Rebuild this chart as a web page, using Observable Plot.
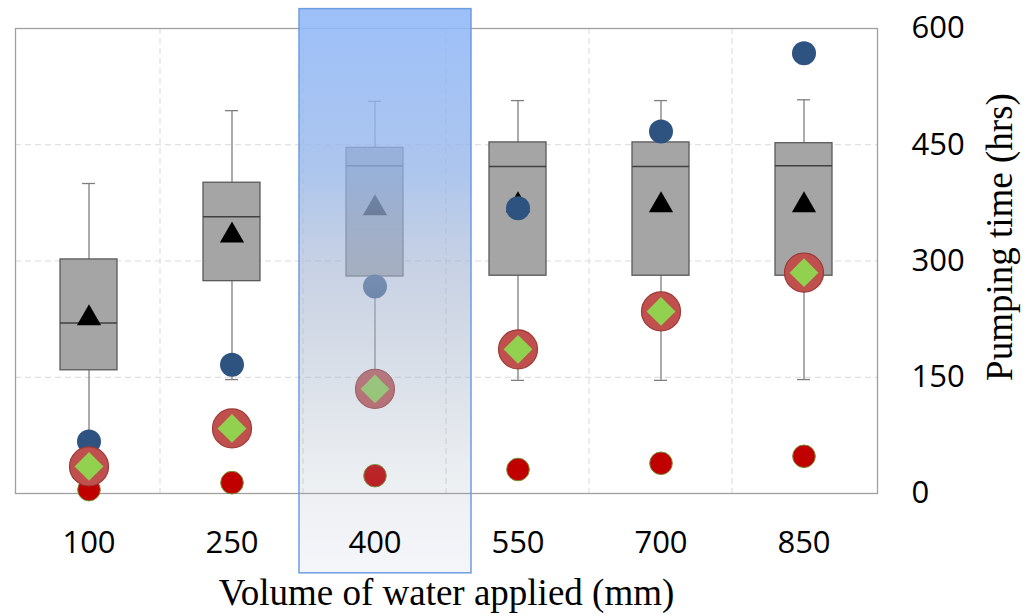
<!DOCTYPE html>
<html>
<head>
<meta charset="utf-8">
<script src="https://cdn.jsdelivr.net/npm/d3@7"></script>
<script src="https://cdn.jsdelivr.net/npm/@observablehq/plot@0.6"></script>
<style>
  html, body { margin: 0; padding: 0; background: #fff; }
  #chart svg { display: block; }
</style>
</head>
<body>
<div id="chart"></div>
<script>
// ---- Data ----
const categories  = ["100", "250", "400", "550", "700", "850"];
const whiskerLow  = [60, 147, 147, 146, 146, 147];
const q1          = [159, 274, 280, 281, 281, 281];
const median      = [220, 357, 423, 422, 422, 423];
const q3          = [302, 401, 446, 453, 453, 452];
const whiskerHigh = [400, 494, 506, 507, 507, 508];
const meanValues  = [226, 333, 368, 372, 372, 372];
const blueDots    = [67, 166, 267, 368, 467, 568];
const redCircles  = [35, 84, 135, 186, 235, 285];
const smallRed    = [5, 14, 23, 31, 39, 48];
const yTicks      = [0, 150, 300, 450, 600];
const xTitle = "Volume of water applied (mm)";
const yTitle = "Pumping time (hrs)";
const highlightCategory = "400";
const highlightRange = [-103, 625];

const rows = categories.map((c, i) => ({
  cat: c, lo: whiskerLow[i], q1: q1[i], med: median[i], q3: q3[i], hi: whiskerHigh[i],
  mean: meanValues[i], blue: blueDots[i], red: redCircles[i], small: smallRed[i]
}));
const highlight = [{cat: highlightCategory, lo: highlightRange[0], hi: highlightRange[1]}];

// ---- Styling ----
const boxInset = 43, capInset = 65;
const serif = "'Liberation Serif', 'Times New Roman', serif";

const defsMark = () => {
  const defs = d3.create("svg:defs");
  const g = defs.append("linearGradient").attr("id", "hl")
    .attr("x1", 0).attr("y1", 0).attr("x2", 0).attr("y2", 1);
  [[0, "rgb(146,185,249)", 0.9], [0.28, "rgb(147,180,233)", 0.77], [0.46, "rgb(165,181,211)", 0.61],
   [0.65, "rgb(162,178,200)", 0.4], [0.83, "rgb(160,175,190)", 0.2], [1, "rgb(155,165,205)", 0.1]]
    .forEach(([o, c, a]) => g.append("stop").attr("offset", o).attr("stop-color", c).attr("stop-opacity", a));
  const f = defs.append("filter").attr("id", "shadow").attr("x", "-10%").attr("y", "-10%").attr("width", "130%").attr("height", "130%");
  f.append("feDropShadow").attr("dx", 2).attr("dy", 2).attr("stdDeviation", 2)
    .attr("flood-color", "#000").attr("flood-opacity", 0.15);
  return defs.node();
};

const vGrid = (index, scales, values, dims) => {
  const x = scales.x, bw = x.bandwidth();
  const g = d3.create("svg:g");
  categories.slice(0, -1).forEach(c => {
    const xx = x(c) + bw;
    g.append("line").attr("x1", xx).attr("x2", xx)
      .attr("y1", dims.marginTop).attr("y2", dims.height - dims.marginBottom)
      .attr("stroke", "#d9d9d9").attr("stroke-dasharray", "6,4");
  });
  return g.node();
};

const chart = Plot.plot({
  width: 1030, height: 616,
  marginLeft: 15, marginRight: 153, marginTop: 28, marginBottom: 123,
  style: {fontFamily: "'Open Sans', sans-serif", background: "#fff", color: "#000", overflow: "visible"},
  x: {domain: categories, padding: 0},
  y: {domain: [0, 600]},
  marks: [
    defsMark,
    Plot.gridY(yTicks, {stroke: "#d9d9d9", strokeOpacity: 1, strokeDasharray: "6,4"}),
    vGrid,
    Plot.frame({stroke: "#a0a0a0", strokeWidth: 1.3}),
    Plot.ruleX(rows, {x: "cat", y1: "lo", y2: "hi", stroke: "#7f7f7f", strokeWidth: 1.3}),
    Plot.tickY(rows, {x: "cat", y: "hi", insetLeft: capInset, insetRight: capInset, stroke: "#7f7f7f", strokeWidth: 1.3}),
    Plot.tickY(rows, {x: "cat", y: "lo", insetLeft: capInset, insetRight: capInset, stroke: "#7f7f7f", strokeWidth: 1.3}),
    Plot.barY(rows, {x: "cat", y1: "q1", y2: "q3", insetLeft: boxInset, insetRight: boxInset, fill: "#a5a5a5", stroke: "#595959", strokeWidth: 1.3}),
    Plot.tickY(rows, {x: "cat", y: "med", insetLeft: boxInset, insetRight: boxInset, stroke: "#404040", strokeWidth: 1.5}),
    Plot.dot(rows, {x: "cat", y: "mean", symbol: "triangle", r: 9, fill: "#000", stroke: "none"}),
    Plot.dot(rows, {x: "cat", y: "blue", r: 12, fill: "#2e5381", stroke: "none"}),
    Plot.dot(rows, {x: "cat", y: "small", r: 11.3, fill: "#c00000", stroke: "#7a8a30", strokeWidth: 1}),
    Plot.dot(rows, {x: "cat", y: "red", r: 19.5, fill: "#c0504d", stroke: "#9c3a37", strokeWidth: 1.2}),
    Plot.dot(rows, {x: "cat", y: "red", symbol: "diamond2", r: 13, fill: "#92d050", stroke: "none"}),
    Plot.barY(highlight, {x: "cat", y1: "lo", y2: "hi", insetLeft: -4, insetRight: -25,
      fill: "url(#hl)", stroke: "#6d9de3", strokeWidth: 1.5, ariaLabel: "highlight"}),
    Plot.axisX({tickSize: 0, tickPadding: 37, fontSize: 31, label: null}),
    Plot.axisY(yTicks, {anchor: "right", tickSize: 0, tickPadding: 34, fontSize: 31, label: null}),
    Plot.text([xTitle], {text: d => d, frameAnchor: "bottom", textAnchor: "middle", lineAnchor: "middle",
      dy: 100, fontFamily: serif, fontSize: 37, fill: "#000"}),
    Plot.text([yTitle], {text: d => d, frameAnchor: "right", textAnchor: "middle", lineAnchor: "middle",
      dx: 123, dy: -24, rotate: -90, fontFamily: serif, fontSize: 37, fill: "#000"})
  ]
});
d3.select(chart).selectAll('g[aria-label="highlight"] rect').attr("filter", "url(#shadow)");
document.getElementById("chart").append(chart);
</script>
</body>
</html>
